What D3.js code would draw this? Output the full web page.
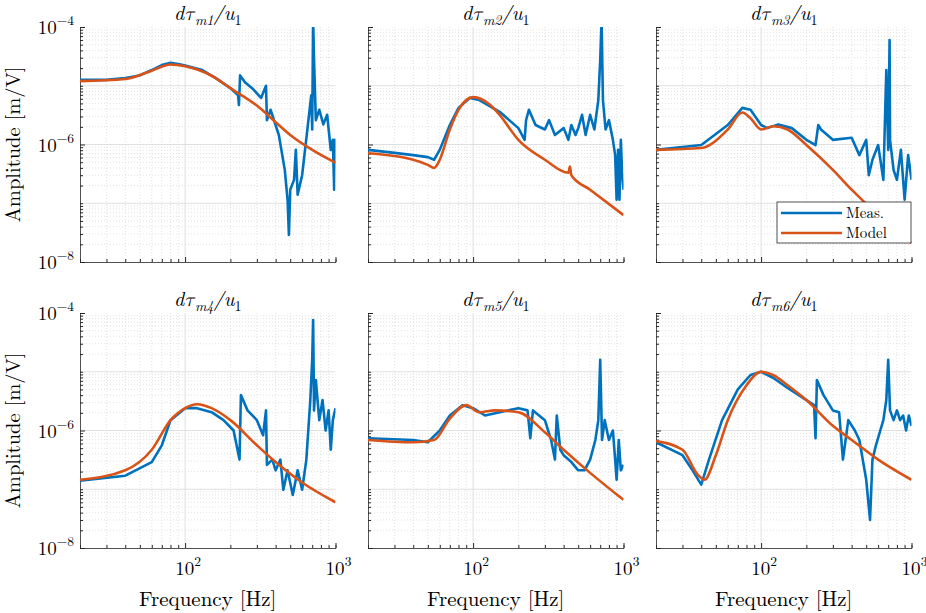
<!DOCTYPE html>
<html><head><meta charset="utf-8">
<script src="https://cdn.jsdelivr.net/npm/d3@7"></script>
<style>body{margin:0;background:#fff}</style></head>
<body><svg id="c" width="926" height="613"></svg>
<script>
const titles=["m1","m2","m3","m4","m5","m6"];
const xTickVals=[100,1000];
const yTickExps=[-4,-6,-8];
const seriesNames=["Meas.","Model"];
// [frequency Hz, amplitude m/V]
const meas1=[[20,1.26e-5],[30,1.26e-5],[40,1.35e-5],[50,1.5e-5],[60,1.85e-5],[70,2.25e-5],[80,2.45e-5],[90,2.35e-5],[100,2.2e-5],[130,1.85e-5],[160,1.35e-5],[200,9.1e-6],[225,6.9e-6],[228,4.7e-6],[232,1.5e-5],[250,1.15e-5],[280,9e-6],[320,6.2e-6],[345,1e-5],[350,2.6e-6],[370,3.9e-6],[420,1.45e-6],[460,3.7e-7],[480,1.15e-7],[490,2.9e-8],[500,1.7e-7],[530,2.5e-7],[545,8.1e-7],[560,1.4e-7],[600,3e-7],[650,1.8e-6],[690,6.9e-6],[700,1.8e-6],[710,1.3e-4],[720,2.75e-5],[740,2.6e-6],[780,3.9e-6],[830,2.2e-6],[880,3.2e-6],[930,8.1e-7],[960,1.2e-6],[980,1.7e-7],[990,1.2e-6],[1000,4.5e-7]];
const model1=[[20,1.2e-5],[40,1.3e-5],[60,1.8e-5],[80,2.3e-5],[100,2.15e-5],[150,1.48e-5],[200,9.1e-6],[300,4.6e-6],[400,2.4e-6],[500,1.45e-6],[700,8.1e-7],[1000,4.9e-7]];
const meas2=[[20,8.1e-7],[30,7.2e-7],[40,6.6e-7],[50,6.1e-7],[55,5.5e-7],[60,8.1e-7],[70,2.15e-6],[80,4.2e-6],[95,6.2e-6],[110,5.7e-6],[150,3.6e-6],[200,1.9e-6],[220,1.2e-6],[225,2.6e-6],[235,3.9e-6],[260,2.15e-6],[300,1.8e-6],[320,2.6e-6],[350,1.45e-6],[400,1.9e-6],[430,1.2e-6],[450,2.15e-6],[480,1.45e-6],[500,1.9e-6],[530,3.2e-6],[560,1.45e-6],[600,3.2e-6],[640,1.8e-6],[680,5.7e-6],[700,2.75e-5],[715,1.3e-4],[730,5.7e-6],[760,1.8e-6],[800,2.6e-6],[850,1.2e-6],[880,6.6e-7],[900,1.15e-7],[920,8.1e-7],[940,1.15e-7],[960,1.2e-6],[980,3e-7],[1000,1.7e-7]];
const model2=[[20,7.1e-7],[40,5.5e-7],[50,4.5e-7],[55,4e-7],[60,5.5e-7],[70,1.8e-6],[80,3.9e-6],[100,6.4e-6],[130,4.7e-6],[150,3.2e-6],[200,1.2e-6],[300,5.5e-7],[430,3.3e-7],[440,4.2e-7],[450,3e-7],[600,1.7e-7],[1000,6.3e-8]];
const meas3=[[20,8.1e-7],[40,9.8e-7],[60,2.15e-6],[75,4.2e-6],[85,3.9e-6],[100,2.15e-6],[110,1.9e-6],[130,2.2e-6],[160,1.9e-6],[200,1.2e-6],[230,9.8e-7],[240,2.15e-6],[250,1.8e-6],[300,1.2e-6],[400,1.3e-6],[450,6.6e-7],[500,1.2e-6],[520,3e-7],[550,5.5e-7],[600,9.8e-7],[650,2.5e-7],[680,1.85e-5],[700,8.1e-7],[715,6e-5],[720,1.2e-6],[760,3.7e-7],[800,2.5e-7],[850,8.1e-7],[900,1.15e-7],[950,6.6e-7],[1000,2.5e-7]];
const model3=[[20,8.1e-7],[40,8.7e-7],[60,1.8e-6],[75,3.5e-6],[85,2.8e-6],[100,1.8e-6],[120,2.05e-6],[150,1.8e-6],[200,9.8e-7],[300,3.7e-7],[400,1.7e-7],[600,6.3e-8],[1000,2.1e-8]];
const meas4=[[20,1.4e-7],[40,1.7e-7],[60,2.9e-7],[70,5.6e-7],[80,1.5e-6],[100,2.4e-6],[120,2.4e-6],[150,2.05e-6],[180,1.5e-6],[210,1.0e-6],[230,3.2e-7],[235,4e-6],[260,2.2e-6],[300,1.5e-6],[330,8.3e-7],[345,2.2e-6],[350,2.6e-7],[380,3.2e-7],[400,2.1e-7],[430,3.2e-7],[450,9.8e-8],[480,2.1e-7],[520,8e-8],[560,2.1e-7],[600,9.8e-8],[640,3.2e-7],[680,3.3e-6],[700,1.6e-5],[710,7.6e-5],[720,2.2e-6],[740,7.2e-6],[780,1.5e-6],[820,3.3e-6],[860,1.0e-6],[900,2.2e-6],[930,4.7e-7],[960,1.5e-6],[1000,2.4e-6]];
const model4=[[20,1.45e-7],[40,2.1e-7],[60,4.7e-7],[80,1.5e-6],[100,2.4e-6],[120,2.8e-6],[150,2.4e-6],[200,1.5e-6],[300,5.6e-7],[400,2.9e-7],[600,1.3e-7],[1000,6e-8]];
const meas5=[[20,7.4e-7],[40,6.9e-7],[50,6.3e-7],[60,1.0e-6],[70,1.8e-6],[85,2.7e-6],[100,2.4e-6],[120,1.8e-6],[150,2.05e-6],[200,2.4e-6],[230,2.2e-6],[240,7.4e-7],[250,2.2e-6],[300,1.5e-6],[330,6.9e-7],[350,3.2e-7],[360,1.8e-6],[380,4.7e-7],[400,3.8e-7],[450,2.9e-7],[500,2.1e-7],[550,2.1e-7],[600,3.2e-7],[650,6.9e-7],[680,1.5e-6],[700,1.6e-5],[720,6.9e-7],[750,1.5e-6],[800,6.9e-7],[850,1.0e-6],[880,3.2e-7],[900,1.45e-7],[930,6.9e-7],[960,2.1e-7],[1000,2.6e-7]];
const model5=[[20,6.9e-7],[40,6.3e-7],[55,6.9e-7],[70,1.6e-6],[90,2.7e-6],[110,2.05e-6],[140,2.2e-6],[200,2.05e-6],[300,9.3e-7],[400,4.7e-7],[600,1.9e-7],[1000,6.6e-8]];
const meas6=[[20,6.3e-7],[30,3.8e-7],[35,2.1e-7],[40,1.2e-7],[45,3.2e-7],[55,1.5e-6],[70,5.0e-6],[85,8.8e-6],[100,1.0e-5],[120,7.9e-6],[150,5.3e-6],[200,3.3e-6],[225,2.7e-6],[230,7.4e-7],[235,7.2e-6],[260,4.0e-6],[300,2.2e-6],[330,2.05e-6],[350,3.2e-7],[380,1.5e-6],[420,1.0e-6],[450,6.9e-7],[500,1.45e-7],[530,3.0e-8],[550,3.2e-7],[580,5.6e-7],[620,1.0e-6],[650,1.5e-6],[680,3.3e-6],[700,1.6e-5],[720,2.2e-6],[760,1.5e-6],[800,2.2e-6],[840,1.5e-6],[880,1.8e-6],[920,1.0e-6],[960,1.8e-6],[1000,1.2e-6]];
const model6=[[20,6.6e-7],[30,4.7e-7],[38,1.75e-7],[42,1.45e-7],[50,3.8e-7],[60,1.5e-6],[80,5.9e-6],[100,1.0e-5],[120,8.8e-6],[150,5.9e-6],[200,3.3e-6],[300,1.2e-6],[400,6.9e-7],[600,3.2e-7],[1000,1.45e-7]];
const measAll=[meas1,meas2,meas3,meas4,meas5,meas6];
const modelAll=[model1,model2,model3,model4,model5,model6];

const svg=d3.select("#c");
const colX=[80,368,656], W=255.5, rowY=[27,313], H=235;
const blue="#0072BD", orange="#D95319", serif="'Latin Modern Roman','Latin Modern Math','DejaVu Serif',serif";
const defs=svg.append("defs");
for(let i=0;i<6;i++){
  const col=i%3,row=Math.floor(i/3);
  const g=svg.append("g").attr("transform",`translate(${colX[col]},${rowY[row]})`);
  const x=d3.scaleLog().domain([20,1000]).range([0,W]);
  const y=d3.scaleLog().domain([1e-8,1e-4]).range([H,0]);
  defs.append("clipPath").attr("id","cp"+i).append("rect").attr("width",W).attr("height",H);
  const xMinor=[];for(let d=10;d<=100;d*=10)for(let k=1;k<=9;k++){const v=d*k;if(v>20&&v<1000)xMinor.push(v);}
  const yMinor=[];for(let e=-8;e<-4;e++)for(let k=2;k<=9;k++)yMinor.push(k*Math.pow(10,e));
  g.selectAll(".gx").data(xMinor).join("line").attr("x1",d=>x(d)).attr("x2",d=>x(d)).attr("y1",0).attr("y2",H)
    .attr("stroke",d=>xTickVals.includes(d)?"#d8d8d8":"#dadada").attr("stroke-dasharray",d=>xTickVals.includes(d)?null:"1,2").attr("stroke-width",0.8);
  g.selectAll(".gy").data(yMinor).join("line").attr("y1",d=>y(d)).attr("y2",d=>y(d)).attr("x1",0).attr("x2",W)
    .attr("stroke","#dadada").attr("stroke-dasharray","1,2").attr("stroke-width",0.8);
  [1e-7,1e-6,1e-5].forEach(v=>g.append("line").attr("x1",0).attr("x2",W).attr("y1",y(v)).attr("y2",y(v)).attr("stroke","#d8d8d8").attr("stroke-width",0.8));
  const ax=d3.axisBottom(x).tickValues(xMinor.concat([1000])).tickSize(-3).tickFormat("");
  const axg=g.append("g").attr("transform",`translate(0,${H})`).call(ax);
  axg.selectAll(".tick line").attr("stroke","#262626").attr("y2",d=>xTickVals.includes(d)?-5:-3);
  const ay=d3.axisLeft(y).tickValues(yMinor.concat([1e-8,1e-6,1e-7,1e-5,1e-4])).tickSize(-3).tickFormat("");
  const ayg=g.append("g").call(ay);
  ayg.selectAll(".tick line").attr("stroke","#262626").attr("x2",d=>[1e-8,1e-6,1e-4].includes(d)?5:3);
  g.selectAll(".domain").attr("stroke","#262626").attr("stroke-width",0.8);
  const line=d3.line().x(d=>x(d[0])).y(d=>y(d[1]));
  const lineS=d3.line().x(d=>x(d[0])).y(d=>y(d[1])).curve(d3.curveMonotoneX);
  const lg=g.append("g").attr("clip-path",`url(#cp${i})`);
  lg.append("path").attr("d",line(measAll[i])).attr("fill","none").attr("stroke",blue).attr("stroke-width",2.6).attr("stroke-linejoin","round");
  lg.append("path").attr("d",lineS(modelAll[i])).attr("fill","none").attr("stroke",orange).attr("stroke-width",2.6).attr("stroke-linejoin","round");
  const t=g.append("text").attr("x",W/2).attr("y",-7).attr("text-anchor","middle").attr("font-family",serif).attr("font-size",20).attr("font-style","italic");
  t.append("tspan").text("dτ");
  t.append("tspan").attr("dy",5).attr("font-size",14).text(titles[i]);
  t.append("tspan").attr("dy",-5).text("/u");
  t.append("tspan").attr("dy",5).attr("font-size",14).attr("font-style","normal").text("1");
  if(col===0){
    yTickExps.forEach(e=>{
      const tt=g.append("text").attr("x",-6).attr("y",y(Math.pow(10,e))+7).attr("text-anchor","end").attr("font-family",serif).attr("font-size",19);
      tt.append("tspan").text("10");
      tt.append("tspan").attr("dy",-9).attr("font-size",13.5).text("−"+(-e));
    });
    g.append("text").attr("transform",`translate(-60,${H/2}) rotate(-90)`).attr("text-anchor","middle").attr("font-family",serif).attr("font-size",20.5).text("Amplitude [m/V]");
  }
  if(row===1){
    xTickVals.forEach(v=>{
      const tt=g.append("text").attr("x",x(v)+3).attr("y",H+27).attr("text-anchor","middle").attr("font-family",serif).attr("font-size",19);
      tt.append("tspan").text("10");
      tt.append("tspan").attr("dy",-9).attr("font-size",13.5).text(String(Math.log10(v)));
    });
    g.append("text").attr("x",W/2).attr("y",H+58).attr("text-anchor","middle").attr("font-family",serif).attr("font-size",21).text("Frequency [Hz]");
  }
  if(i===2){
    const L=g.append("g").attr("transform",`translate(${777-656},${202-27})`);
    L.append("rect").attr("width",134).attr("height",41).attr("fill","#fff").attr("stroke","#262626").attr("stroke-width",0.8);
    seriesNames.forEach((n,k)=>{
      L.append("line").attr("x1",4).attr("x2",65).attr("y1",11+k*20).attr("y2",11+k*20).attr("stroke",k?orange:blue).attr("stroke-width",2.6);
      L.append("text").attr("x",69).attr("y",15.5+k*20).attr("font-family",serif).attr("font-size",15).text(n);
    });
  }
}
</script></body></html>
